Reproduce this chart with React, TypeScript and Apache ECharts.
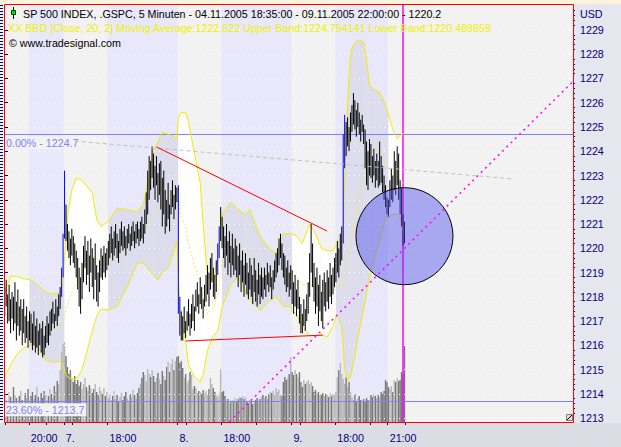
import React, { useEffect, useRef } from "react";
import * as echarts from "echarts";

const FONT = '"Liberation Sans", Arial, Helvetica, sans-serif';

// ---- OHLC bar ranges (5-minute bars, 04.11.2005 18:35 .. 09.11.2005 22:00) ----
const highs = [
  // Nov 4
  1218.4, 1218.7, 1218.1, 1218.5, 1217.9, 1218.2,
  1218.0, 1218.6, 1217.8, 1218.3, 1217.6, 1217.9,
  1217.5, 1217.9, 1217.2, 1217.6, 1217.0, 1217.4,
  1217.3, 1216.9, 1217.4, 1216.8, 1217.1, 1216.6, 1216.9,
  1216.7, 1217.0, 1216.4, 1216.8, 1217.2, 1216.9, 1217.4,
  1217.5, 1217.8, 1217.3, 1217.9, 1217.6, 1218.1, 1218.4, 1219.2, 1220.6,
  // Nov 7
  1223.2, 1221.8, 1221.0, 1220.7, 1220.4, 1220.8, 1220.5, 1220.2, 1219.9, 1219.6,
  1219.2, 1218.8, 1219.4, 1220.1, 1220.5, 1219.9, 1220.3, 1219.7, 1220.4, 1220.0,
  1219.6, 1220.2, 1219.3, 1219.0, 1219.5, 1220.0, 1219.7, 1220.1, 1219.8, 1220.0, 1220.3,
  1220.6, 1220.9, 1220.4, 1220.7, 1221.0, 1220.6, 1220.3, 1220.8, 1221.1, 1220.7, 1220.9,
  1220.5, 1220.8, 1221.0, 1220.6, 1220.9, 1221.1, 1220.7, 1221.0, 1221.1, 1220.8, 1221.1,
  1221.3, 1221.0, 1221.6, 1222.3, 1223.2, 1223.8,
  1223.6, 1224.2, 1223.9, 1223.4, 1223.8, 1223.1, 1223.5,
  1223.6, 1222.9, 1223.2, 1222.4, 1222.0, 1222.7, 1221.8,
  1222.4, 1222.8, 1222.2, 1222.6, 1222.5,
  // Nov 8
  1222.6, 1218.0, 1217.4,
  1217.2, 1217.6, 1217.0, 1217.4, 1217.9, 1217.3, 1217.7, 1218.1, 1217.6,
  1218.3, 1218.6, 1218.1, 1218.8, 1218.4, 1217.9, 1218.5,
  1218.9, 1219.3, 1219.0, 1219.6, 1219.8, 1219.2, 1218.9,
  1219.5, 1220.2, 1220.9, 1221.7, 1221.3,
  1220.9, 1220.5, 1221.0, 1220.3, 1220.7, 1220.1, 1220.6, 1220.0, 1220.4,
  1220.1, 1219.7, 1220.2, 1219.5, 1219.9, 1219.3, 1219.8, 1219.4, 1219.0, 1219.6,
  1219.3, 1218.9, 1219.6, 1219.1, 1218.7, 1219.4, 1218.9, 1219.2, 1218.8,
  1219.2, 1218.9, 1219.4, 1219.0, 1219.3, 1218.8, 1219.1, 1219.5, 1219.8,
  1220.0, 1220.4, 1220.6, 1220.2, 1219.8,
  1219.7, 1219.2, 1219.5, 1219.0, 1219.3,
  // Nov 9
  1219.1, 1218.6, 1218.9, 1218.3, 1218.7, 1218.0,
  1217.7, 1217.3, 1217.9, 1217.5, 1218.1,
  1218.6, 1219.8, 1221.0, 1220.2,
  1219.4, 1218.8, 1219.2, 1218.5, 1218.9, 1218.2, 1218.7, 1219.0,
  1218.6, 1219.1, 1218.8, 1219.4, 1218.9, 1219.2, 1219.6,
  1219.8, 1220.3, 1220.0, 1220.6, 1220.9,
  1224.7, 1225.5, 1225.2,
  1225.4, 1225.0, 1225.6,
  1225.9, 1226.4, 1226.1, 1225.7, 1226.0,
  1225.6, 1225.3, 1225.5, 1225.1,
  1224.9, 1224.4, 1224.0, 1224.5,
  1224.3, 1223.8, 1224.1, 1223.6, 1223.9,
  1223.6, 1224.4, 1223.8, 1223.4, 1223.0, 1222.6, 1222.1, 1222.0, 1222.8, 1223.3,
  1223.0, 1224.0, 1223.6, 1224.2, 1223.9, 1222.8, 1222.5, 1221.4, 1221.1,
];

const lows = [
  // Nov 4
  1217.2, 1217.6, 1216.9, 1217.0, 1216.5, 1217.1,
  1216.6, 1216.9, 1216.2, 1216.8, 1216.4, 1216.6,
  1216.0, 1216.5, 1216.1, 1216.3, 1215.9, 1216.2,
  1216.1, 1215.8, 1216.0, 1215.7, 1215.9, 1215.6, 1216.0,
  1215.7, 1215.5, 1215.6, 1215.9, 1216.1, 1216.0, 1216.4,
  1216.6, 1216.9, 1216.7, 1217.0, 1216.8, 1217.2, 1217.5, 1218.0, 1218.8,
  // Nov 7
  1220.4, 1220.3, 1219.9, 1219.6, 1219.3, 1219.7, 1219.4, 1219.2, 1218.8, 1218.3,
  1217.6, 1217.3, 1217.9, 1218.6, 1219.2, 1218.5, 1218.9, 1218.2, 1219.0, 1218.4,
  1217.9, 1218.7, 1217.8, 1217.6, 1218.2, 1218.8, 1218.7, 1219.0, 1218.8, 1219.1, 1219.3,
  1219.6, 1219.8, 1219.5, 1219.7, 1220.0, 1219.6, 1219.4, 1219.8, 1220.1, 1219.9, 1220.0,
  1219.7, 1220.0, 1220.2, 1219.9, 1220.1, 1220.3, 1220.0, 1220.2, 1220.4, 1220.1, 1220.3,
  1220.4, 1220.2, 1220.6, 1221.0, 1221.4, 1222.0,
  1222.4, 1222.9, 1222.5, 1222.0, 1222.6, 1221.9, 1222.2,
  1221.6, 1220.9, 1221.4, 1220.6, 1220.9, 1221.2, 1220.7,
  1221.4, 1221.7, 1221.2, 1221.6, 1221.9,
  // Nov 8
  1217.3, 1216.4, 1216.2,
  1216.2, 1216.5, 1216.3, 1216.6, 1216.8, 1216.4, 1216.7, 1217.0, 1216.6,
  1217.4, 1217.6, 1217.3, 1217.7, 1217.5, 1217.1, 1217.6,
  1217.8, 1218.1, 1217.6, 1218.3, 1218.6, 1218.0, 1217.9,
  1218.2, 1218.9, 1219.6, 1220.3, 1220.0,
  1219.6, 1219.2, 1219.7, 1218.9, 1219.4, 1218.8, 1219.3, 1218.9, 1219.1,
  1218.8, 1218.4, 1218.9, 1218.2, 1218.6, 1218.0, 1218.5, 1218.1, 1217.9, 1218.3,
  1218.0, 1217.7, 1218.2, 1217.8, 1217.6, 1218.1, 1217.7, 1218.0, 1217.9,
  1218.3, 1218.0, 1218.5, 1218.2, 1218.4, 1217.9, 1218.3, 1218.6, 1218.8,
  1219.0, 1219.3, 1219.6, 1219.1, 1218.8,
  1218.5, 1218.2, 1218.4, 1218.0, 1218.3,
  // Nov 9
  1217.7, 1217.3, 1217.6, 1217.2, 1217.5, 1216.9,
  1216.5, 1216.5, 1216.8, 1216.6, 1217.0,
  1217.3, 1218.0, 1219.0, 1218.4,
  1217.8, 1217.3, 1217.6, 1216.8, 1217.4, 1217.0, 1216.7, 1217.6,
  1217.4, 1217.8, 1217.5, 1218.0, 1217.7, 1218.1, 1218.4,
  1218.6, 1219.0, 1218.8, 1219.3, 1219.5,
  1220.2, 1223.3, 1223.8,
  1224.2, 1224.0, 1224.4,
  1224.8, 1225.1, 1224.9, 1224.6, 1225.0,
  1224.7, 1224.4, 1224.8, 1224.3,
  1223.3, 1222.6, 1222.4, 1223.0,
  1222.9, 1222.7, 1223.0, 1222.5, 1222.8,
  1222.5, 1222.6, 1222.7, 1222.3, 1222.0, 1221.7, 1221.4, 1221.3, 1221.7, 1222.0,
  1221.9, 1222.4, 1222.2, 1222.6, 1222.0, 1221.4, 1220.9, 1220.1, 1220.2,
];

// bars drawn in blue (fast moves / gaps)
const blueBars = [39, 40, 41, 119, 120, 146, 147, 232, 233];

// ---- volume (thousands) ----
const volumes = [
  28, 22, 18, 30, 25, 20, 35, 27, 24, 19,
  26, 31, 22, 18, 29, 24, 33, 21, 26, 30,
  23, 27, 35, 25, 20, 29, 24, 31, 27, 22,
  26, 33, 28, 24, 36, 30, 41, 38, 52, 70, 78,
  80, 66, 55, 48, 52, 44, 40, 46, 38, 42,
  36, 40, 33, 38, 44, 35, 31, 37, 34, 29,
  33, 38, 30, 27, 35, 31, 28, 34, 26, 30,
  24, 28, 22, 26, 31, 23, 27, 20, 25, 29,
  22, 26, 30, 24, 21, 28, 25, 32, 27, 23,
  29, 34, 38, 44, 50, 47, 41, 53, 48, 45,
  52, 46, 40, 44, 49, 43, 38, 51, 46, 42,
  55, 60, 50, 58, 63, 52, 61, 65,
  66, 59, 61, 54, 44, 48, 39, 42, 50, 47,
  33, 36, 34, 29, 31, 30, 28, 32, 29, 31,
  27, 33, 44, 38, 34, 30, 27, 25, 29, 53,
  30, 31, 26, 20, 23, 19, 21, 22, 20, 24,
  21, 23, 25, 24, 26, 23, 25, 20, 19, 22,
  21, 18, 20, 22, 24, 21, 23, 25, 27, 24,
  26, 23, 28, 30, 29, 31, 28, 34, 30, 32,
  27, 26, 40, 45, 42, 44, 48, 65,
  50, 47, 52, 48, 45, 50, 40, 35, 42, 38,
  40, 42, 38, 40, 36, 30, 32, 28, 30, 28,
  27, 29, 26, 28, 27, 25, 29, 26, 28, 27,
  30, 45, 52, 59, 48, 43, 38, 45, 35, 40,
  30, 25, 22, 28, 20, 24, 26, 22, 20, 23,
  21, 24, 22, 20, 27, 25, 28, 26, 24, 27,
  25, 30, 28, 31, 42, 40, 35, 33, 36, 30,
  42, 40, 44, 41, 42, 50, 48, 76,
];

// ---- Bollinger bands (Close, 20, 2), read at these bar indices ----
const bandIdx = [
  0, 4, 8, 13, 17, 21, 24, 28, 33, 38, 40,
  41, 43, 46, 49, 53, 57, 60, 63, 66, 71, 77, 84, 91, 95, 99, 102, 105, 108, 112, 116, 118,
  119, 121, 124, 126, 130, 134, 136, 139, 143, 146, 149, 155, 160, 165, 168, 175, 181, 186, 191, 196,
  197, 200, 204, 209, 213, 217, 221, 225, 227, 229, 231, 232, 233, 235, 237, 239, 242, 246, 248, 250,
  254, 256, 259, 261, 263, 266, 269, 271, 274,
];
const bandUpper = [
  1218.15, 1218.85, 1218.85, 1218.75, 1218.7, 1218.6, 1218.4, 1218.2, 1218.1, 1218.2, 1218.6,
  1219.6, 1221.3, 1222.4, 1222.9, 1222.8, 1222.5, 1222.3, 1221.2, 1220.9, 1221.1, 1221.65, 1221.6, 1221.5, 1221.8, 1223.0, 1224.0, 1224.4, 1224.8, 1224.7, 1224.6, 1224.5,
  1225.4, 1225.6, 1225.6, 1225.2, 1223.9, 1222.7, 1221.0, 1218.8, 1218.7, 1219.6, 1221.4, 1221.9, 1221.6, 1221.4, 1221.6, 1220.5, 1220.0, 1219.8, 1220.6, 1220.6,
  1220.6, 1220.5, 1220.2, 1221.0, 1220.6, 1220.0, 1219.9, 1219.9, 1220.1, 1220.3, 1220.3, 1220.6, 1223.0, 1226.0, 1228.0, 1228.4, 1228.6, 1228.5, 1227.8, 1226.7,
  1226.5, 1226.5, 1226.2, 1225.9, 1225.5, 1224.9, 1224.5, 1224.65, 1224.754,
];
const bandMid = [
  1217.3, 1217.25, 1217.25, 1217.2, 1217.2, 1217.0, 1216.85, 1216.7, 1216.65, 1216.8, 1216.9,
  1217.2, 1217.7, 1218.2, 1218.6, 1219.0, 1219.4, 1219.7, 1219.6, 1219.3, 1219.4, 1219.7, 1220.1, 1220.5, 1220.7, 1221.0, 1221.4, 1221.6, 1221.9, 1222.1, 1222.4, 1222.5,
  1222.1, 1221.3, 1220.9, 1220.2, 1219.3, 1218.6, 1217.9, 1217.3, 1217.55, 1218.1, 1219.5, 1220.2, 1220.2, 1219.8, 1219.7, 1219.0, 1218.9, 1218.9, 1219.1, 1219.1,
  1219.0, 1218.8, 1218.5, 1218.5, 1218.4, 1218.2, 1218.1, 1218.2, 1218.4, 1218.5, 1218.5, 1218.4, 1218.9, 1219.5, 1220.1, 1220.8, 1221.9, 1223.0, 1223.5, 1223.9,
  1224.2, 1224.0, 1223.7, 1223.5, 1223.3, 1223.1, 1222.9, 1222.85, 1222.622,
];
const bandLower = [
  1214.7, 1215.2, 1215.6, 1215.9, 1216.0, 1216.0, 1215.8, 1215.4, 1215.3, 1215.35, 1215.2,
  1214.9, 1214.7, 1214.6, 1214.6, 1215.0, 1215.9, 1216.6, 1217.2, 1217.5, 1217.45, 1217.6, 1218.4, 1219.4, 1219.4, 1219.1, 1218.9, 1218.7, 1219.0, 1219.2, 1219.9, 1220.3,
  1218.8, 1217.0, 1216.2, 1215.2, 1214.7, 1214.5, 1214.8, 1215.8, 1216.4, 1216.6, 1217.6, 1218.5, 1218.8, 1218.2, 1217.9, 1217.45, 1217.8, 1218.0, 1217.6, 1217.6,
  1217.4, 1217.3, 1216.8, 1216.4, 1216.4, 1216.45, 1216.35, 1216.8, 1217.2, 1217.1, 1216.7, 1216.0, 1215.0, 1214.55, 1214.7, 1215.25, 1216.3, 1217.5, 1218.1, 1218.8,
  1219.7, 1220.1, 1220.8, 1221.2, 1221.25, 1221.4, 1221.4, 1221.3, 1220.49,
];

// ---- time axis ----
const sessionShade = [[17, 41], [71, 119], [149, 197], [227, 263]];
const timeTickIdx = [1, 17, 29, 41, 47, 71, 119, 125, 149, 173, 197, 203, 227, 251, 263, 275];
const timeLabelIdx = [17, 41, 71, 119, 149, 197, 227, 263];
const timeLabels = ["20:00", "7.", "18:00", "8.", "18:00", "9.", "18:00", "21:00"];

// ---- price axis ----
const priceTicks = [1213, 1214, 1215, 1216, 1217, 1218, 1219, 1220, 1221, 1222, 1223, 1224, 1225, 1226, 1227, 1228, 1229];
const priceMin = 1212.84;
const priceMax = 1230.07;
const lastPrice = 1220.2;

// ---- drawing objects ----
const fibLevels = [1224.7, 1213.7];
const fibLabels = ["0.00% - 1224.7", "23.60% - 1213.7"];
const resistanceLine = [[104, 1224.18], [221, 1220.71]];
const supportLine = [[124, 1216.18], [218, 1216.42]];
const channelLine = [[154, 1212.85], [389, 1226.85]];
const grayTrendLine = [[48, 1224.42], [348, 1222.86]];
const cursorBar = 272.5;
const circleCenter = [274.5, 1220.5];
const waveLabels = [
  { text: "b'''", bar: 101, price: 1226.53 },
  { text: "x''", bar: 232, price: 1228.3 },
  { text: "c'''", bar: 213, price: 1214.77 },
];

function buildOption() {
  const mids = highs.map((h, i) => (h + lows[i]) / 2);
  const inShade = (x: number) => sessionShade.some(([a, b]) => x >= a && x < b);
  const minorTicks: number[] = [];
  priceTicks.forEach((t) => [0.2, 0.4, 0.6, 0.8].forEach((f) => minorTicks.push(+(t + f).toFixed(1))));
  const lineAt = (pts: number[][]) => pts.map(([b, p]) => [b + 0.5, p]);
  const navy = "#000080";

  return {
    animation: false,
    grid: { left: 4, right: 48, top: 4, bottom: 25, show: true, backgroundColor: "#f2f2f2", borderWidth: 0 },
    xAxis: {
      type: "value",
      min: 0,
      max: 390,
      axisLine: { show: false },
      splitLine: { show: false },
      axisTick: { show: true, customValues: timeTickIdx, length: 3, lineStyle: { color: navy } },
      axisLabel: {
        customValues: timeLabelIdx,
        formatter: (v: number) => timeLabels[timeLabelIdx.indexOf(v)] ?? "",
        align: "left",
        color: navy,
        fontSize: 10.7,
        fontFamily: FONT,
        margin: 10,
        padding: [0, 0, 0, 2],
      },
    },
    yAxis: [
      {
        type: "value",
        position: "right",
        min: priceMin,
        max: priceMax,
        axisLine: { show: false },
        splitLine: { show: false },
        axisTick: { show: true, customValues: priceTicks, length: 4, lineStyle: { color: navy, width: 1 } },
        axisLabel: {
          customValues: priceTicks,
          formatter: (v: number) => String(Math.round(v)),
          color: navy,
          fontSize: 10.7,
          fontFamily: FONT,
          margin: 7,
        },
      },
      {
        type: "value",
        position: "right",
        min: priceMin,
        max: priceMax,
        axisLine: { show: false },
        splitLine: { show: false },
        axisLabel: { show: false },
        axisTick: { show: true, customValues: minorTicks, length: 2, lineStyle: { color: navy, width: 1 } },
      },
      { type: "value", min: 0, max: 418, show: false },
    ],
    series: [
      {
        type: "custom",
        name: "sessions",
        z: 1,
        silent: true,
        clip: true,
        data: sessionShade.map(([a, b]) => [a, b, priceMin, priceMax]),
        encode: { x: [0, 1], y: [2, 3] },
        renderItem: (_p: any, api: any) => {
          const a = api.coord([api.value(0), priceMax]);
          const b = api.coord([api.value(1), priceMin]);
          return { type: "rect", shape: { x: a[0], y: a[1], width: b[0] - a[0], height: b[1] - a[1] }, style: { fill: "#e8e8fa" } };
        },
      },
      {
        type: "custom",
        name: "bandFill",
        z: 2,
        silent: true,
        clip: true,
        data: bandIdx.map((b, k) => [b + 0.5, bandUpper[k], bandLower[k]]),
        encode: { x: 0, y: [1, 2] },
        renderItem: (p: any, api: any) => {
          const k = p.dataIndex;
          if (k === 0) return null;
          const xa = bandIdx[k - 1] + 0.5;
          const xb = bandIdx[k] + 0.5;
          const pts = [
            api.coord([xa, bandUpper[k - 1]]),
            api.coord([xb, bandUpper[k]]),
            api.coord([xb, bandLower[k]]),
            api.coord([xa, bandLower[k - 1]]),
          ];
          const mid = (bandIdx[k - 1] + bandIdx[k]) / 2;
          return { type: "polygon", shape: { points: pts }, style: { fill: inShade(mid) ? "#dcdcec" : "#ffffff" } };
        },
      },
      {
        type: "line",
        name: "gridDots",
        z: 3,
        data: [],
        silent: true,
        markLine: {
          silent: true,
          symbol: ["none", "none"],
          label: { show: false },
          lineStyle: { color: "#ffffff", type: [1, 4], width: 1 },
          data: priceTicks.map((v) => ({ yAxis: v })),
        },
      },
      {
        type: "custom",
        name: "volume",
        z: 4,
        yAxisIndex: 2,
        silent: true,
        clip: true,
        data: volumes.map((v, i) => [i + 0.5, v]),
        encode: { x: 0, y: 1 },
        renderItem: (p: any, api: any) => {
          const i = p.dataIndex;
          const t = api.coord([api.value(0), api.value(1)]);
          const b = api.coord([api.value(0), 0]);
          const down = i > 0 && mids[i] <= mids[i - 1] + 0.15;
          return { type: "rect", shape: { x: t[0] - 0.7, y: t[1], width: 1.4, height: b[1] - t[1] }, style: { fill: down ? "#777777" : "#b8b8b8" } };
        },
      },
      {
        type: "line",
        name: "Upper Band",
        z: 5,
        showSymbol: false,
        silent: true,
        data: bandIdx.map((b, k) => [b + 0.5, bandUpper[k]]),
        lineStyle: { color: "#f0ec00", width: 1 },
      },
      {
        type: "line",
        name: "Lower Band",
        z: 5,
        showSymbol: false,
        silent: true,
        data: bandIdx.map((b, k) => [b + 0.5, bandLower[k]]),
        lineStyle: { color: "#f0ec00", width: 1 },
      },
      {
        type: "line",
        name: "Moving Average",
        z: 5,
        showSymbol: false,
        silent: true,
        data: bandIdx.map((b, k) => [b + 0.5, bandMid[k]]),
        lineStyle: { color: "#f0ec50", width: 1, type: [2, 2] },
      },
      {
        type: "custom",
        name: "SP 500",
        z: 6,
        silent: true,
        clip: true,
        data: highs.map((h, i) => [i + 0.5, lows[i], h]),
        encode: { x: 0, y: [1, 2] },
        renderItem: (p: any, api: any) => {
          const x = api.value(0);
          const top = api.coord([x, api.value(2)]);
          const bot = api.coord([x, api.value(1)]);
          const blue = blueBars.includes(p.dataIndex);
          return {
            type: "line",
            shape: { x1: top[0], y1: top[1], x2: bot[0], y2: bot[1] },
            style: { stroke: blue ? "#0000ff" : "#000000", lineWidth: 1 },
          };
        },
      },
      {
        type: "line",
        z: 7,
        silent: true,
        showSymbol: false,
        data: lineAt(grayTrendLine),
        lineStyle: { color: "#c0c0c0", width: 1, type: [4, 3] },
      },
      {
        type: "line",
        z: 7,
        silent: true,
        showSymbol: false,
        data: lineAt(resistanceLine),
        lineStyle: { color: "#ff0000", width: 1 },
      },
      {
        type: "line",
        z: 7,
        silent: true,
        showSymbol: false,
        data: lineAt(supportLine),
        lineStyle: { color: "#ff0000", width: 1 },
      },
      {
        type: "line",
        z: 8,
        data: [],
        silent: true,
        markLine: {
          silent: true,
          symbol: ["none", "none"],
          data: [
            ...fibLevels.map((v, k) => ({
              yAxis: v,
              lineStyle: { color: "#8080ff", width: 1, type: "solid" },
              label: {
                show: true,
                position: "insideStartBottom",
                formatter: fibLabels[k],
                color: "#8080ff",
                fontSize: 10.7,
                fontFamily: FONT,
                backgroundColor: "#f2f2f2",
                padding: [1, 2, 1, 1],
                distance: [1, 2],
              },
            })),
            {
              yAxis: lastPrice,
              lineStyle: { opacity: 0 },
              label: {
                show: true,
                position: "end",
                formatter: "- " + lastPrice.toFixed(1),
                color: navy,
                fontSize: 10.7,
                fontFamily: FONT,
                backgroundColor: "#ffffe0",
                padding: [2, 14, 2, 1],
                distance: 2,
              },
            },
          ],
        },
      },
      {
        type: "scatter",
        z: 9,
        silent: true,
        data: [circleCenter],
        symbolSize: 97,
        itemStyle: { color: "rgba(77,77,237,0.45)", borderColor: "#000000", borderWidth: 1, opacity: 1 },
      },
      {
        type: "line",
        z: 10,
        silent: true,
        showSymbol: false,
        data: lineAt(channelLine),
        lineStyle: { color: "#ff00ff", width: 1.5, type: [2, 4] },
        markLine: {
          silent: true,
          symbol: ["none", "none"],
          label: { show: false },
          lineStyle: { color: "#ff00ff", width: 1.5, type: "solid" },
          data: [{ xAxis: cursorBar + 0.5 }],
        },
      },
      {
        type: "scatter",
        z: 11,
        silent: true,
        symbolSize: 1,
        itemStyle: { opacity: 0 },
        data: waveLabels.map((w) => ({ value: [w.bar + 0.5, w.price], name: w.text })),
        label: { show: true, position: "inside", formatter: "{b}", color: "#8080ff", fontSize: 12, fontFamily: FONT },
      },
    ],
    graphic: {
      elements: [
        { type: "rect", z: -5, silent: true, shape: { x: 0, y: 0, width: 621, height: 4 }, style: { fill: "#fbf3dc" } },
        { type: "rect", z: -5, silent: true, shape: { x: 0, y: 423, width: 621, height: 24 }, style: { fill: "#dcdce4" } },
        { type: "rect", z: -5, silent: true, shape: { x: 0, y: 4, width: 4, height: 419 }, style: { fill: "#f2f2f2" } },
        { type: "line", z: 100, silent: true, shape: { x1: 1.5, y1: 5, x2: 1.5, y2: 422 }, style: { stroke: navy, lineWidth: 3, lineDash: [1, 2] } },
        { type: "rect", z: 100, silent: true, shape: { x: 4.5, y: 4.5, width: 569, height: 418 }, style: { fill: "none", stroke: "#ff0000", lineWidth: 1 } },
        { type: "rect", z: 100, silent: true, shape: { x: 566.5, y: 414.5, width: 6, height: 6 }, style: { fill: "#e0e0e0", stroke: "#808080", lineWidth: 1 } },
        { type: "line", z: 101, silent: true, shape: { x1: 567, y1: 420, x2: 572, y2: 415 }, style: { stroke: "#000000", lineWidth: 1 } },
        { type: "line", z: 100, silent: true, shape: { x1: 13.5, y1: 7, x2: 13.5, y2: 19 }, style: { stroke: "#000000", lineWidth: 1 } },
        { type: "rect", z: 101, silent: true, shape: { x: 11.5, y: 10.5, width: 4, height: 4 }, style: { fill: "#00e000", stroke: "#004000", lineWidth: 1 } },
        {
          type: "text", z: 100, silent: true, x: 23, y: 14,
          style: { text: "SP 500 INDEX, .GSPC, 5 Minuten - 04.11.2005 18:35:00 - 09.11.2005 22:00:00 - 1220.2", fill: "#000000", font: `10.7px ${FONT}`, verticalAlign: "middle" },
        },
        {
          type: "text", z: 100, silent: true, x: 8, y: 28,
          style: { text: "XX BBD [Close, 20, 2] Moving Average:1222.622 Upper Band:1224.754141 Lower Band:1220.489859", fill: "#f0f000", font: `10.7px ${FONT}`, verticalAlign: "middle" },
        },
        {
          type: "text", z: 100, silent: true, x: 9, y: 43,
          style: { text: "© www.tradesignal.com", fill: "#000000", font: `10.7px ${FONT}`, verticalAlign: "middle" },
        },
        {
          type: "text", z: 100, silent: true, x: 580, y: 14,
          style: { text: "USD", fill: navy, font: `10.7px ${FONT}`, verticalAlign: "middle" },
        },
      ],
    },
  };
}

export default function App() {
  const ref = useRef<HTMLDivElement>(null);
  useEffect(() => {
    const chart = echarts.init(ref.current!, undefined, { renderer: "svg" });
    chart.setOption(buildOption() as any);
    return () => chart.dispose();
  }, []);
  return (
    <div
      ref={ref}
      style={{ position: "fixed", left: 0, top: 0, width: 621, height: 447, background: "#e6e6ee" }}
    />
  );
}
